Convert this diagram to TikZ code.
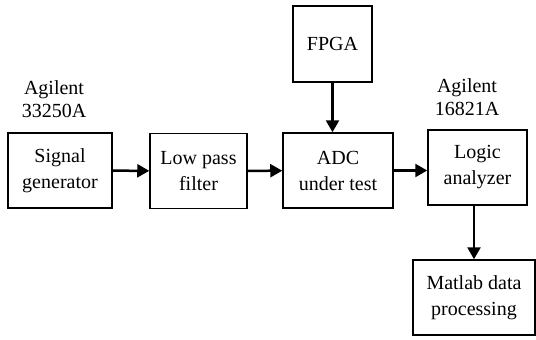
\documentclass[tikz,border=0pt]{standalone}
\usepackage{fontspec}
\setmainfont{Liberation Serif}
\usepackage{tikz}
\usetikzlibrary{arrows.meta,positioning}

\begin{document}
\begin{tikzpicture}[
    x=1pt, y=-1pt,
    box/.style={rectangle, draw, line width=1.5pt, align=center, inner sep=0pt,
                minimum height=75pt, font=\fontsize{20}{26}\selectfont},
    lbl/.style={align=center, inner sep=0pt, font=\fontsize{20}{23}\selectfont},
    arrow/.style={-{Triangle[length=12pt,width=13pt]}, line width=2.5pt}
  ]
    \useasboundingbox (0,0) rectangle (536,340);
    \node[box, minimum width=104pt] (sig)  at (60,170.5)  {Signal\\generator};
    \node[box, minimum width=97pt]  (lpf)  at (198.5,171) {Low pass\\filter};
    \node[box, minimum width=110pt] (adc)  at (338,170.5) {ADC\\under test};
    \node[box, minimum width=79pt, minimum height=76pt] (fpga) at (332.5,44) {FPGA};
    \node[box, minimum width=99pt]  (la)   at (477.5,167.5) {Logic\\analyzer};
    \node[box, minimum width=122pt] (mat)  at (474,297.5) {Matlab data\\processing};
    \node[lbl] (gen)  at (54,99)  {Agilent\\33250A};
    \node[lbl] (anl)  at (467,97) {Agilent\\16821A};
    \draw[arrow] (sig)  -- (lpf);
    \draw[arrow] (lpf)  -- (adc);
    \draw[arrow] (fpga) -- (fpga |- adc.north);
    \draw[arrow] (adc.east) -- (adc.east -| la.west);
    \draw[arrow] (mat.north |- la.south) -- (mat.north);
  \end{tikzpicture}
\end{document}
